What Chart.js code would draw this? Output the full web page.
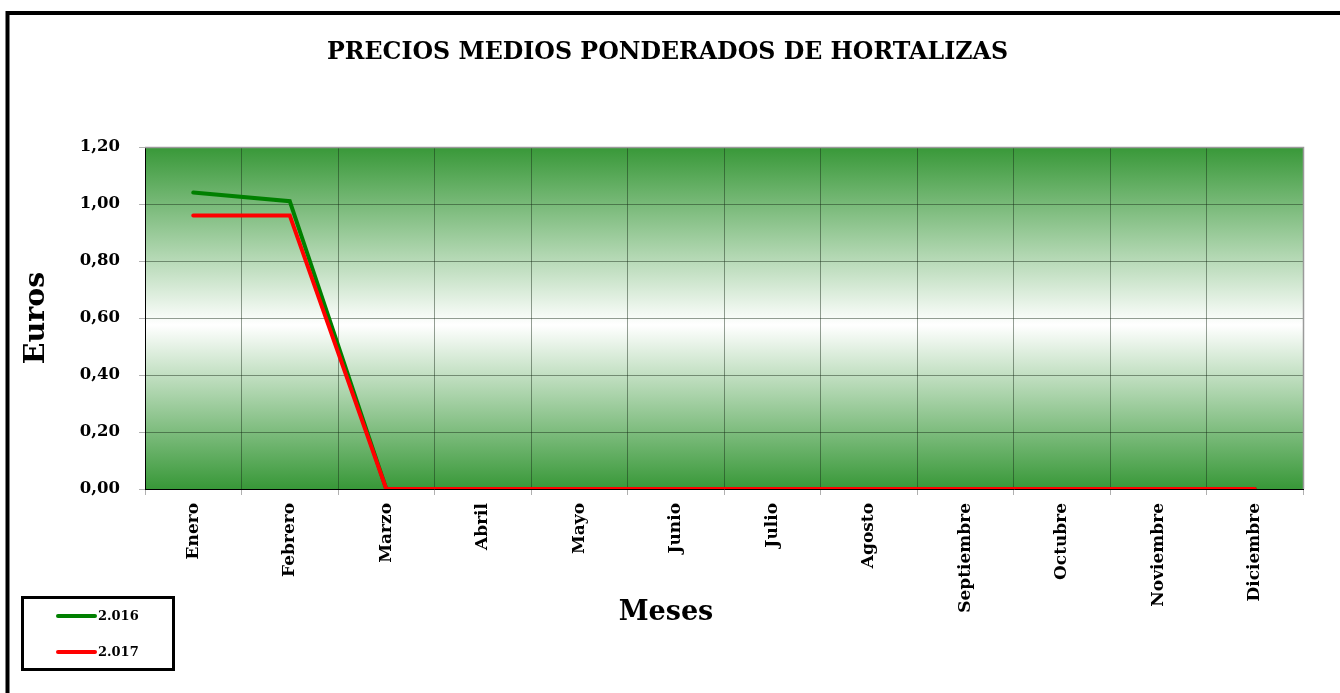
<!DOCTYPE html>
<html>
<head>
<meta charset="utf-8">
<script src="https://cdn.jsdelivr.net/npm/chart.js@4"></script>
<style>
  html, body { margin: 0; padding: 0; background: #fff; }
  canvas { display: block; }
</style>
</head>
<body>
<canvas id="c" width="1340" height="693"></canvas>
<script>
const months = ['Enero','Febrero','Marzo','Abril','Mayo','Junio','Julio','Agosto','Septiembre','Octubre','Noviembre','Diciembre'];
const series2016 = [1.04, 1.01, 0, 0, 0, 0, 0, 0, 0, 0, 0, 0];
const series2017 = [0.96, 0.96, 0, 0, 0, 0, 0, 0, 0, 0, 0, 0];
const seriesLabels = ['2.016', '2.017'];
const seriesColors = ['#008000', '#ff0000'];
const yMin = 0, yMax = 1.2, yStep = 0.2;
const titleText = 'PRECIOS MEDIOS PONDERADOS DE HORTALIZAS';
const yTitle = 'Euros';
const xTitle = 'Meses';

const FONT = "'DejaVu Serif', 'Liberation Serif', serif";

const decorPlugin = {
  id: 'decor',
  beforeDraw(chart) {
    const ctx = chart.ctx;
    const a = chart.chartArea;
    ctx.save();
    ctx.fillStyle = '#ffffff';
    ctx.fillRect(0, 0, chart.width, chart.height);
    const g = ctx.createLinearGradient(0, a.top, 0, a.bottom);
    g.addColorStop(0, '#389838');
    g.addColorStop(0.52, '#ffffff');
    g.addColorStop(1, '#389838');
    ctx.fillStyle = g;
    ctx.fillRect(a.left, a.top, a.right - a.left, a.bottom - a.top);
    ctx.restore();
  },
  afterDraw(chart) {
    const ctx = chart.ctx;
    const a = chart.chartArea;
    ctx.save();
    // top & right plot border (grey)
    ctx.strokeStyle = '#9a9a9a';
    ctx.lineWidth = 1.5;
    ctx.beginPath();
    ctx.moveTo(a.left, a.top + 0.5);
    ctx.lineTo(a.right + 0.5, a.top + 0.5);
    ctx.lineTo(a.right + 0.5, a.bottom);
    ctx.stroke();
    // outer frame
    ctx.strokeStyle = '#000';
    ctx.lineWidth = 4;
    ctx.strokeRect(7.5, 13, 1400, 800);
    // chart title
    ctx.fillStyle = '#000';
    ctx.textAlign = 'center';
    ctx.textBaseline = 'middle';
    ctx.font = "bold 23.7px " + FONT;
    ctx.fillText(titleText, 667.5, 53);
    // x axis title
    ctx.font = "bold 27px " + FONT;
    ctx.fillText(xTitle, 666, 613);
    // legend box
    ctx.lineWidth = 3;
    ctx.strokeRect(22.5, 597.5, 151, 72);
    ctx.font = "bold 13px " + FONT;
    ctx.textAlign = 'left';
    const ys = [616, 652];
    chart.data.datasets.forEach((ds, i) => {
      ctx.strokeStyle = ds.borderColor;
      ctx.lineWidth = 4;
      ctx.lineCap = 'round';
      ctx.beginPath();
      ctx.moveTo(58, ys[i]);
      ctx.lineTo(95, ys[i]);
      ctx.stroke();
      ctx.fillStyle = '#000';
      ctx.fillText(ds.label, 98, ys[i] + 1);
    });
    ctx.restore();
  }
};

new Chart(document.getElementById('c'), {
  type: 'line',
  data: {
    labels: months,
    datasets: [
      { label: seriesLabels[0], data: series2016, borderColor: seriesColors[0], backgroundColor: seriesColors[0], borderWidth: 4, pointRadius: 0, tension: 0, order: 2, borderCapStyle: 'round' },
      { label: seriesLabels[1], data: series2017, borderColor: seriesColors[1], backgroundColor: seriesColors[1], borderWidth: 4, pointRadius: 0, tension: 0, order: 1, borderCapStyle: 'round' }
    ]
  },
  options: {
    responsive: false,
    animation: false,
    layout: { padding: { left: 0, top: 147, right: 37, bottom: 0 } },
    plugins: {
      legend: { display: false },
      tooltip: { enabled: false },
      title: { display: false }
    },
    scales: {
      x: {
        type: 'category',
        offset: true,
        afterFit(s) { s.height = 204; },
        grid: { offset: true, color: 'rgba(20,40,20,0.45)', lineWidth: 1, tickLength: 6, tickColor: '#b0b0b0' },
        border: { color: '#000', width: 1 },
        ticks: {
          autoSkip: false, minRotation: 90, maxRotation: 90, padding: 8,
          color: '#000', font: { family: FONT, size: 17, weight: 'bold' }
        }
      },
      y: {
        min: yMin, max: yMax,
        afterFit(s) { s.width = 145; },
        grid: { color: 'rgba(20,40,20,0.45)', lineWidth: 1, tickLength: 6, tickColor: '#b0b0b0' },
        border: { color: '#000', width: 1 },
        ticks: {
          stepSize: yStep, padding: 19, color: '#000',
          font: { family: FONT, size: 16.5, weight: 'bold' },
          callback: v => Number(v).toFixed(2).replace('.', ',')
        },
        title: {
          display: true, text: yTitle, color: '#000',
          font: { family: FONT, size: 28.5, weight: 'bold' },
          padding: { top: 19, bottom: 0 }
        }
      }
    }
  },
  plugins: [decorPlugin]
});
</script>
</body>
</html>
